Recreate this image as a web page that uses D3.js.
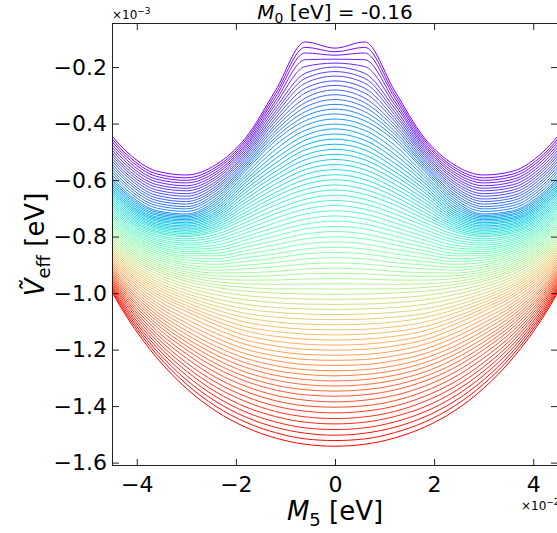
<!DOCTYPE html>
<html>
<head>
<meta charset="utf-8">
<script src="https://cdn.jsdelivr.net/npm/d3@7"></script>
<style>
body { margin: 0; background: #fff; }
svg { display: block; font-family: "DejaVu Sans", sans-serif; }
</style>
</head>
<body>
<svg></svg>
<script>
var w = 557, h = 533

// M5 sample points (x1e-2 eV); curves are symmetric, the negative side mirrors these
var m5 = [0, 0.6, 1.2, 1.8, 2.4, 3.0, 3.6, 4.2, 4.8]

// V_eff (x1e-3 eV) read at each M5 sample, curve 0 (violet, top) .. curve 79 (red, bottom)
var v00 = [-0.133, -0.146, -0.158, -0.172, -0.186, -0.200, -0.216, -0.232, -0.249, -0.265,
    -0.281, -0.298, -0.315, -0.332, -0.349, -0.366, -0.384, -0.402, -0.419, -0.437,
    -0.455, -0.473, -0.491, -0.509, -0.527, -0.545, -0.563, -0.581, -0.599, -0.617,
    -0.635, -0.653, -0.672, -0.690, -0.709, -0.727, -0.745, -0.764, -0.782, -0.801,
    -0.819, -0.838, -0.856, -0.875, -0.893, -0.912, -0.930, -0.949, -0.967, -0.986,
    -1.004, -1.022, -1.040, -1.058, -1.076, -1.094, -1.112, -1.130, -1.148, -1.166,
    -1.184, -1.202, -1.220, -1.238, -1.256, -1.275, -1.293, -1.311, -1.329, -1.347,
    -1.365, -1.385, -1.404, -1.424, -1.444, -1.463, -1.483, -1.503, -1.522, -1.542]
var v06 = [-0.111, -0.130, -0.150, -0.174, -0.198, -0.222, -0.240, -0.257, -0.275, -0.292,
    -0.310, -0.326, -0.342, -0.358, -0.374, -0.390, -0.407, -0.424, -0.442, -0.459,
    -0.476, -0.493, -0.511, -0.528, -0.546, -0.563, -0.580, -0.598, -0.615, -0.633,
    -0.650, -0.668, -0.685, -0.703, -0.720, -0.738, -0.756, -0.773, -0.791, -0.808,
    -0.826, -0.844, -0.861, -0.879, -0.897, -0.915, -0.932, -0.950, -0.968, -0.985,
    -1.003, -1.021, -1.039, -1.056, -1.074, -1.092, -1.110, -1.128, -1.145, -1.163,
    -1.181, -1.199, -1.217, -1.235, -1.253, -1.271, -1.288, -1.306, -1.324, -1.342,
    -1.360, -1.379, -1.399, -1.418, -1.438, -1.457, -1.477, -1.496, -1.516, -1.535]
var v12 = [-0.283, -0.295, -0.307, -0.320, -0.332, -0.345, -0.357, -0.368, -0.380, -0.391,
    -0.403, -0.414, -0.426, -0.437, -0.449, -0.460, -0.476, -0.492, -0.508, -0.524,
    -0.540, -0.555, -0.570, -0.584, -0.599, -0.614, -0.629, -0.644, -0.658, -0.673,
    -0.688, -0.704, -0.719, -0.735, -0.751, -0.767, -0.782, -0.798, -0.814, -0.829,
    -0.845, -0.861, -0.876, -0.892, -0.907, -0.923, -0.938, -0.954, -0.969, -0.985,
    -1.000, -1.017, -1.034, -1.051, -1.068, -1.085, -1.102, -1.119, -1.136, -1.153,
    -1.170, -1.187, -1.205, -1.222, -1.239, -1.257, -1.274, -1.291, -1.308, -1.326,
    -1.343, -1.362, -1.381, -1.400, -1.419, -1.437, -1.456, -1.475, -1.494, -1.513]
var v18 = [-0.450, -0.458, -0.466, -0.474, -0.481, -0.489, -0.497, -0.505, -0.512, -0.520,
    -0.528, -0.536, -0.544, -0.551, -0.559, -0.567, -0.578, -0.588, -0.599, -0.609,
    -0.620, -0.632, -0.643, -0.655, -0.667, -0.679, -0.690, -0.702, -0.714, -0.725,
    -0.737, -0.750, -0.762, -0.775, -0.787, -0.800, -0.812, -0.825, -0.837, -0.850,
    -0.862, -0.875, -0.888, -0.901, -0.914, -0.928, -0.941, -0.954, -0.967, -0.980,
    -0.993, -1.009, -1.024, -1.040, -1.056, -1.072, -1.087, -1.103, -1.119, -1.134,
    -1.150, -1.166, -1.182, -1.199, -1.215, -1.231, -1.247, -1.263, -1.280, -1.296,
    -1.312, -1.330, -1.348, -1.366, -1.384, -1.403, -1.421, -1.439, -1.457, -1.475]
var v24 = [-0.545, -0.554, -0.562, -0.571, -0.579, -0.588, -0.596, -0.605, -0.613, -0.622,
    -0.630, -0.638, -0.647, -0.655, -0.664, -0.672, -0.680, -0.688, -0.696, -0.704,
    -0.712, -0.719, -0.726, -0.733, -0.740, -0.747, -0.754, -0.761, -0.768, -0.775,
    -0.782, -0.792, -0.801, -0.811, -0.820, -0.830, -0.840, -0.849, -0.859, -0.868,
    -0.878, -0.888, -0.898, -0.909, -0.919, -0.929, -0.939, -0.949, -0.960, -0.970,
    -0.980, -0.993, -1.006, -1.020, -1.033, -1.046, -1.059, -1.072, -1.086, -1.099,
    -1.112, -1.127, -1.143, -1.158, -1.173, -1.189, -1.204, -1.219, -1.234, -1.250,
    -1.265, -1.282, -1.299, -1.316, -1.333, -1.350, -1.367, -1.384, -1.401, -1.418]
var v30 = [-0.582, -0.592, -0.601, -0.610, -0.620, -0.629, -0.638, -0.648, -0.657, -0.667,
    -0.676, -0.685, -0.694, -0.702, -0.711, -0.720, -0.725, -0.730, -0.735, -0.740,
    -0.745, -0.751, -0.756, -0.762, -0.767, -0.773, -0.778, -0.784, -0.789, -0.795,
    -0.800, -0.808, -0.815, -0.823, -0.830, -0.838, -0.845, -0.853, -0.860, -0.868,
    -0.875, -0.883, -0.892, -0.900, -0.908, -0.917, -0.925, -0.933, -0.941, -0.950,
    -0.958, -0.969, -0.979, -0.990, -1.001, -1.012, -1.022, -1.033, -1.044, -1.054,
    -1.065, -1.079, -1.092, -1.106, -1.119, -1.133, -1.146, -1.160, -1.173, -1.187,
    -1.200, -1.215, -1.230, -1.246, -1.261, -1.276, -1.291, -1.307, -1.322, -1.337]
var v36 = [-0.568, -0.578, -0.587, -0.597, -0.606, -0.616, -0.625, -0.635, -0.644, -0.654,
    -0.663, -0.672, -0.681, -0.690, -0.699, -0.708, -0.713, -0.719, -0.724, -0.730,
    -0.735, -0.740, -0.745, -0.751, -0.756, -0.761, -0.766, -0.771, -0.777, -0.782,
    -0.787, -0.794, -0.800, -0.807, -0.813, -0.820, -0.826, -0.833, -0.839, -0.846,
    -0.852, -0.859, -0.866, -0.873, -0.880, -0.888, -0.895, -0.902, -0.909, -0.916,
    -0.923, -0.932, -0.941, -0.950, -0.959, -0.968, -0.976, -0.985, -0.994, -1.003,
    -1.012, -1.023, -1.034, -1.044, -1.055, -1.066, -1.077, -1.088, -1.098, -1.109,
    -1.120, -1.132, -1.144, -1.156, -1.168, -1.180, -1.192, -1.204, -1.216, -1.228]
var v42 = [-0.500, -0.510, -0.519, -0.529, -0.539, -0.549, -0.559, -0.568, -0.578, -0.587,
    -0.597, -0.606, -0.616, -0.625, -0.635, -0.644, -0.651, -0.657, -0.664, -0.670,
    -0.677, -0.683, -0.689, -0.695, -0.701, -0.708, -0.714, -0.720, -0.726, -0.732,
    -0.738, -0.744, -0.750, -0.757, -0.763, -0.769, -0.775, -0.781, -0.788, -0.794,
    -0.800, -0.807, -0.813, -0.820, -0.826, -0.833, -0.840, -0.846, -0.853, -0.859,
    -0.866, -0.873, -0.880, -0.887, -0.894, -0.901, -0.907, -0.914, -0.921, -0.928,
    -0.935, -0.943, -0.950, -0.958, -0.966, -0.974, -0.981, -0.989, -0.997, -1.004,
    -1.012, -1.020, -1.028, -1.036, -1.044, -1.053, -1.061, -1.069, -1.077, -1.085]
var v48 = [-0.377, -0.387, -0.397, -0.407, -0.417, -0.427, -0.437, -0.447, -0.457, -0.467,
    -0.477, -0.487, -0.497, -0.507, -0.517, -0.527, -0.534, -0.540, -0.547, -0.553,
    -0.560, -0.568, -0.575, -0.583, -0.590, -0.598, -0.605, -0.613, -0.620, -0.628,
    -0.635, -0.642, -0.649, -0.656, -0.663, -0.670, -0.677, -0.684, -0.691, -0.698,
    -0.705, -0.712, -0.719, -0.726, -0.733, -0.740, -0.747, -0.754, -0.761, -0.768,
    -0.775, -0.781, -0.786, -0.792, -0.797, -0.803, -0.808, -0.814, -0.819, -0.825,
    -0.830, -0.834, -0.838, -0.842, -0.846, -0.850, -0.854, -0.858, -0.862, -0.866,
    -0.870, -0.873, -0.877, -0.880, -0.884, -0.887, -0.891, -0.894, -0.898, -0.901]

var columns = [v00, v06, v12, v18, v24, v30, v36, v42, v48]

var xTicks = [-4, -2, 0, 2, 4]
var yTicks = [-1.6, -1.4, -1.2, -1.0, -0.8, -0.6, -0.4, -0.2]

var plotL = 112, plotR = 558, plotT = 23, plotB = 466

var x = d3.scaleLinear().domain([-4.5, 4.5]).range([plotL, plotR])
var y = d3.scaleLinear().domain([-1.612, -0.044]).range([plotB, plotT])

var svg = d3.select("svg")
    .attr("width", w)
    .attr("height", h)

svg.append("defs").append("clipPath")
    .attr("id", "plotclip")
    .append("rect")
        .attr("x", plotL)
        .attr("y", plotT)
        .attr("width", plotR - plotL)
        .attr("height", plotB - plotT)

// matplotlib "rainbow" colormap
function rainbow(t)
{
    var r = Math.min(1, Math.abs(2 * t - 0.5))
    var g = Math.sin(Math.PI * t)
    var b = Math.cos(Math.PI * t / 2)
    return d3.rgb(255 * r, 255 * g, 255 * b).toString()
}

var n = v00.length
var curves = d3.range(n).map(function(k) {
    var pts = []
    for (var i = m5.length - 1; i > 0; i--) pts.push([-m5[i], columns[i][k]])
    for (var i = 0; i < m5.length; i++) pts.push([m5[i], columns[i][k]])
    return pts
})

var line = d3.line()
    .x(function(d) { return x(d[0]) })
    .y(function(d) { return y(d[1]) })
    .curve(d3.curveMonotoneX)

svg.append("g")
    .attr("clip-path", "url(#plotclip)")
    .selectAll("path")
    .data(curves)
    .enter().append("path")
        .attr("d", line)
        .attr("fill", "none")
        .attr("stroke", function(d, i) { return rainbow(i / (n - 1)) })
        .attr("stroke-width", 1)

// axes, ticks pointing inward on all four sides
var fmt = function(d) { return d3.format(".1f")(d).replace("-", "\u2212") }
var fmtx = function(d) { return String(d).replace("-", "\u2212") }

svg.append("g")
    .attr("transform", "translate(0," + plotB + ")")
    .call(d3.axisBottom(x).tickValues(xTicks).tickFormat(fmtx).tickSizeInner(-7).tickSizeOuter(0).tickPadding(10))
svg.append("g")
    .attr("transform", "translate(0," + plotT + ")")
    .call(d3.axisTop(x).tickValues(xTicks).tickFormat("").tickSizeInner(-7).tickSizeOuter(0))
svg.append("g")
    .attr("transform", "translate(" + plotL + ",0)")
    .call(d3.axisLeft(y).tickValues(yTicks).tickFormat(fmt).tickSizeInner(-7).tickSizeOuter(0).tickPadding(5))
svg.append("g")
    .attr("transform", "translate(" + plotR + ",0)")
    .call(d3.axisRight(y).tickValues(yTicks).tickFormat("").tickSizeInner(-7).tickSizeOuter(0))

svg.selectAll(".domain").remove()
svg.selectAll(".tick line").attr("stroke", "#222").attr("stroke-width", 1)
svg.selectAll(".tick text")
    .attr("font-family", "DejaVu Sans")
    .attr("font-size", 22)
    .attr("fill", "#000")

svg.append("rect")
    .attr("x", plotL + 0.5)
    .attr("y", plotT + 0.5)
    .attr("width", plotR - plotL - 1)
    .attr("height", plotB - plotT - 1)
    .attr("fill", "none")
    .attr("stroke", "#222")
    .attr("stroke-width", 1)

// title
var title = svg.append("text")
    .attr("x", (plotL + plotR) / 2)
    .attr("y", 19)
    .attr("text-anchor", "middle")
    .attr("font-size", 20)
title.append("tspan").attr("font-style", "italic").text("M")
title.append("tspan").attr("font-size", 14).attr("dy", 4).text("0")
title.append("tspan").attr("dy", -4).text(" [eV] = -0.16")

// axis labels
var xl = svg.append("text")
    .attr("x", (plotL + plotR) / 2)
    .attr("y", 520)
    .attr("text-anchor", "middle")
    .attr("font-size", 26)
xl.append("tspan").attr("font-style", "italic").text("M")
xl.append("tspan").attr("font-size", 18).attr("dy", 6).text("5")
xl.append("tspan").attr("dy", -6).text(" [eV]")

var yl = svg.append("text")
    .attr("transform", "translate(44," + (plotT + plotB) / 2 + ") rotate(-90)")
    .attr("text-anchor", "middle")
    .attr("font-size", 26)
yl.append("tspan").attr("font-style", "italic").text("\u1E7C")
yl.append("tspan").attr("font-size", 18).attr("dy", 6).text("eff")
yl.append("tspan").attr("dy", -6).text(" [eV]")

// offset multipliers
var oy = svg.append("text").attr("x", 112).attr("y", 19).attr("font-size", 12)
oy.append("tspan").text("\u00D710")
oy.append("tspan").attr("font-size", 9).attr("dy", -5).text("\u22123")

var ox = svg.append("text").attr("x", 521).attr("y", 510).attr("font-size", 12)
ox.append("tspan").text("\u00D710")
ox.append("tspan").attr("font-size", 9).attr("dy", -5).text("\u22122")
</script>
</body>
</html>
